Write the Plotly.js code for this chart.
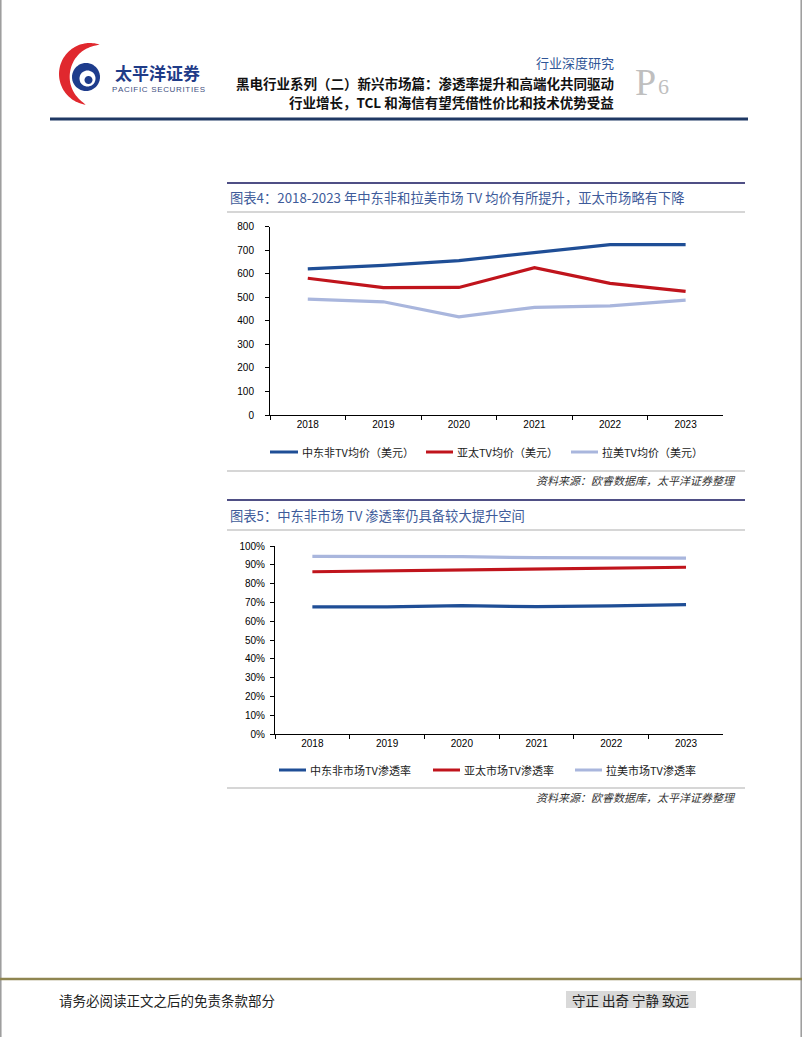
<!DOCTYPE html>
<html>
<head>
<meta charset="utf-8">
<script src="https://cdn.plot.ly/plotly-3.0.1.min.js"></script>
<style>
html,body{margin:0;padding:0;background:#fff;}
#chart{width:802px;height:1037px;}
</style>
</head>
<body>
<div id="chart"></div>
<script>
// ---------------- data ----------------
const years = ['2018', '2019', '2020', '2021', '2022', '2023'];

const priceNames = ['中东非TV均价（美元）', '亚太TV均价（美元）', '拉美TV均价（美元）'];
const priceMEA = [621, 636, 656, 690, 724, 724];
const priceAPAC = [581, 541, 542, 626, 559, 525];
const priceLatAm = [492, 481, 417, 457, 464, 488];

const penNames = ['中东非市场TV渗透率', '亚太市场TV渗透率', '拉美市场TV渗透率'];
const penMEA = [0.676, 0.676, 0.683, 0.677, 0.681, 0.688];
const penAPAC = [0.863, 0.867, 0.871, 0.876, 0.881, 0.887];
const penLatAm = [0.945, 0.945, 0.943, 0.938, 0.938, 0.936];

const priceTicks = [0, 100, 200, 300, 400, 500, 600, 700, 800];
const penTicks = [0, 0.1, 0.2, 0.3, 0.4, 0.5, 0.6, 0.7, 0.8, 0.9, 1.0];

const seriesColors = ['#1F4E96', '#C0141C', '#A9B6DD'];

// ---------------- helpers ----------------
const W = 802, H = 1037;
const X = px => px / W;
const Y = py => 1 - py / H;
const CJK = '"Noto Sans CJK SC", "Noto Sans", sans-serif';
const NUM = '"Liberation Sans", Arial, sans-serif';

function polyPath(pts) {
  return 'M' + pts.map(p => X(p[0]).toFixed(5) + ',' + Y(p[1]).toFixed(5)).join('L') + 'Z';
}
function circlePts(cx, cy, r, n) {
  const pts = [];
  for (let i = 0; i < n; i++) {
    const t = 2 * Math.PI * i / n;
    pts.push([cx + r * Math.cos(t), cy - r * Math.sin(t)]);
  }
  return pts;
}
function crescentPts() {
  const cx = 90, cy = 74, r = 31, a0 = 72, a1 = 262, n = 60, maxT = 11;
  const outer = [], inner = [];
  for (let i = 0; i <= n; i++) {
    const a = a0 + (a1 - a0) * i / n;
    const rad = a * Math.PI / 180;
    const t = maxT * Math.pow(Math.sin(Math.PI * i / n), 0.8);
    outer.push([cx + r * Math.cos(rad), cy - r * Math.sin(rad)]);
    inner.push([cx + (r - t) * Math.cos(rad), cy - (r - t) * Math.sin(rad)]);
  }
  return outer.concat(inner.reverse());
}

// ---------------- traces ----------------
const traces = [];
[priceMEA, priceAPAC, priceLatAm].forEach((vals, i) => {
  traces.push({
    type: 'scatter', mode: 'lines', x: years, y: vals, name: priceNames[i],
    line: { color: seriesColors[i], width: 3.2 }, xaxis: 'x', yaxis: 'y',
    showlegend: false, hoverinfo: 'skip'
  });
});
[penMEA, penAPAC, penLatAm].forEach((vals, i) => {
  traces.push({
    type: 'scatter', mode: 'lines', x: years, y: vals, name: penNames[i],
    line: { color: seriesColors[i], width: 3.2 }, xaxis: 'x2', yaxis: 'y2',
    showlegend: false, hoverinfo: 'skip'
  });
});

// ---------------- shapes ----------------
const shapes = [];
function hline(y, x0, x1, color, width) {
  shapes.push({ type: 'line', xref: 'paper', yref: 'paper', x0: X(x0), x1: X(x1), y0: Y(y), y1: Y(y),
    line: { color: color, width: width } });
}
// page borders
shapes.push({ type: 'line', xref: 'paper', yref: 'paper', x0: X(0.8), x1: X(0.8), y0: 0, y1: 1, line: { color: '#9A9A9A', width: 1.5 } });
shapes.push({ type: 'line', xref: 'paper', yref: 'paper', x0: X(801.2), x1: X(801.2), y0: 0, y1: 1, line: { color: '#9A9A9A', width: 1.5 } });
// header rule
hline(119, 50, 748, '#1F3864', 3);
// chart 1 frame
hline(183, 227, 745, '#4F4F85', 2);
hline(212, 227, 745, '#C8C8C8', 1.5);
hline(471, 227, 745, '#C8C8C8', 1.5);
// chart 2 frame
hline(500, 227, 745, '#4F4F85', 2);
hline(530, 227, 745, '#C8C8C8', 1.5);
hline(788, 227, 745, '#C8C8C8', 1.5);
// footer
hline(979, 0, 802, '#8F8550', 2.5);
shapes.push({ type: 'rect', xref: 'paper', yref: 'paper', x0: X(566), x1: X(696), y0: Y(1008), y1: Y(991),
  fillcolor: '#D9D9D9', line: { width: 0 }, layer: 'below' });
// logo
shapes.push({ type: 'path', xref: 'paper', yref: 'paper', path: polyPath(crescentPts()), fillcolor: '#E0282E', line: { width: 0 } });
shapes.push({ type: 'path', xref: 'paper', yref: 'paper', path: polyPath(circlePts(86, 77, 14, 48)), fillcolor: '#1E3C8C', line: { width: 0 } });
shapes.push({ type: 'path', xref: 'paper', yref: 'paper', path: polyPath(circlePts(87.5, 78.5, 8, 40)), fillcolor: '#FFFFFF', line: { width: 0 } });
shapes.push({ type: 'path', xref: 'paper', yref: 'paper', path: polyPath(circlePts(88.5, 80, 4, 30)), fillcolor: '#1E3C8C', line: { width: 0 } });

// legends (built from series names/colours)
const legend1 = [[270, 298, 300], [426, 453, 455], [571, 598, 600]];
const legend2 = [[279, 306, 308], [433, 460, 462], [575, 602, 604]];
const annotations = [];
function legendRow(names, pos, y) {
  names.forEach((nm, i) => {
    shapes.push({ type: 'line', xref: 'paper', yref: 'paper', x0: X(pos[i][0]), x1: X(pos[i][1]), y0: Y(y), y1: Y(y),
      line: { color: seriesColors[i], width: 3 } });
    annotations.push({ xref: 'paper', yref: 'paper', x: X(pos[i][2]), y: Y(y), xanchor: 'left', yanchor: 'middle',
      text: nm, showarrow: false, font: { family: CJK, size: 11, color: '#222' } });
  });
}
legendRow(priceNames, legend1, 452);
legendRow(penNames, legend2, 770);

// ---------------- annotations ----------------
function ann(text, x, y, xanchor, size, color, extra) {
  annotations.push(Object.assign({ xref: 'paper', yref: 'paper', x: X(x), y: Y(y), xanchor: xanchor, yanchor: 'middle',
    text: text, showarrow: false, font: { family: CJK, size: size, color: color } }, extra || {}));
}
ann('<b>太平洋证券</b>', 157, 72, 'center', 17, '#1F3C88', { borderpad: 0 });
ann('PACIFIC SECURITIES'.split('').join('\u200A'), 158, 89, 'center', 8, '#3F4F7F',
  { borderpad: 0, font: { family: NUM, size: 8, color: '#3F4F7F' } });
ann('行业深度研究', 616, 63, 'right', 13, '#2F5597');
ann('<b>黑电行业系列（二）新兴市场篇：渗透率提升和高端化共同驱动</b>', 616, 83, 'right', 13.5, '#111');
ann('<b>行业增长，TCL 和海信有望凭借性价比和技术优势受益</b>', 616, 102, 'right', 13.5, '#111');
ann('P', 645, 82, 'center', 38, '#BFBFBF', { font: { family: '"Liberation Serif", "DejaVu Serif", serif', size: 38, color: '#BFBFBF' } });
ann('6', 663.5, 87, 'center', 22, '#BFBFBF', { font: { family: '"Liberation Serif", "DejaVu Serif", serif', size: 22, color: '#BFBFBF' } });

ann('图表4：2018-2023 年中东非和拉美市场 TV 均价有所提升，亚太市场略有下降', 228, 198, 'left', 13.3, '#3E5B9A');
ann('图表5：中东非市场 TV 渗透率仍具备较大提升空间', 228, 515, 'left', 13.3, '#3E5B9A');
ann('<i>资料来源：欧睿数据库，太平洋证券整理</i>', 738, 480, 'right', 11, '#333');
ann('<i>资料来源：欧睿数据库，太平洋证券整理</i>', 738, 797, 'right', 11, '#333');
ann('请务必阅读正文之后的免责条款部分', 57, 1000, 'left', 13.5, '#222');
ann('守正 出奇 宁静 致远', 631, 1000, 'center', 13.5, '#222');

// ---------------- axes ----------------
const tickFont = { family: NUM, size: 10, color: '#000' };
function xAxis(domain, anchor) {
  return {
    domain: domain, anchor: anchor, type: 'category', categoryorder: 'array', categoryarray: years,
    range: [-0.5, years.length - 0.5], tickson: 'boundaries', ticks: 'outside', ticklen: 4, tickcolor: '#000',
    showline: true, linecolor: '#000', linewidth: 1, showgrid: false, zeroline: false,
    tickfont: tickFont, fixedrange: true
  };
}

const layout = {
  width: W, height: H, margin: { l: 0, r: 0, t: 0, b: 0 },
  paper_bgcolor: '#fff', plot_bgcolor: 'rgba(0,0,0,0)', showlegend: false,
  xaxis: xAxis([X(270), X(723.4)], 'y'),
  yaxis: {
    domain: [Y(415), Y(226.7)], anchor: 'x', range: [0, 800], tickmode: 'array', tickvals: priceTicks,
    ticktext: priceTicks.map(String), ticks: 'outside', ticklen: 4, tickcolor: '#000',
    showline: true, linecolor: '#000', linewidth: 1, showgrid: false, zeroline: false,
    tickfont: tickFont, ticklabelstandoff: 9, fixedrange: true
  },
  xaxis2: xAxis([X(275), X(723.4)], 'y2'),
  yaxis2: {
    domain: [Y(734), Y(546)], anchor: 'x2', range: [0, 1], tickmode: 'array', tickvals: penTicks,
    ticktext: penTicks.map(v => Math.round(v * 100) + '%'), ticks: 'outside', ticklen: 4, tickcolor: '#000',
    showline: true, linecolor: '#000', linewidth: 1, showgrid: false, zeroline: false,
    tickfont: tickFont, ticklabelstandoff: 3, fixedrange: true
  },
  shapes: shapes,
  annotations: annotations
};

Plotly.newPlot('chart', traces, layout, { staticPlot: true, displayModeBar: false });
</script>
</body>
</html>
